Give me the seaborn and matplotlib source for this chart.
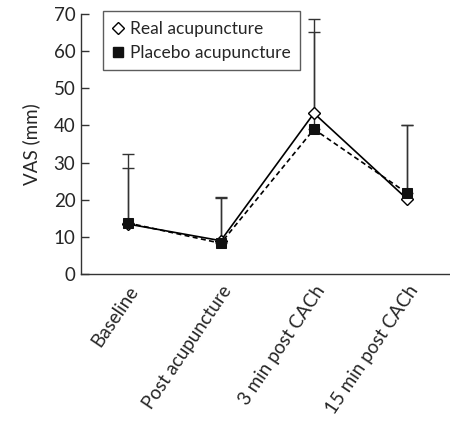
import matplotlib
matplotlib.use("Agg")
import matplotlib.pyplot as plt
import seaborn as sns
import pandas as pd
import numpy as np

categories = ["Baseline", "Post acupuncture", "3 min post CACh", "15 min post CACh"]
real_mean = [13.5, 9.0, 43.3, 20.2]
placebo_mean = [13.8, 8.3, 39.0, 21.8]
real_upper = [32.3, 20.8, 68.6, 40.1]
placebo_upper = [28.5, 20.5, 65.2, 40.0]
series_names = ["Real acupuncture", "Placebo acupuncture"]

sns.set_theme(style="white")
plt.rcParams["font.family"] = ["Lato", "DejaVu Sans"]

df = pd.DataFrame({
    "pos": list(range(len(categories))) * 2,
    "VAS": real_mean + placebo_mean,
    "group": [series_names[0]] * 4 + [series_names[1]] * 4,
})

fig = plt.figure(figsize=(4.5, 4.25), dpi=100)
ax = fig.add_axes([0.18, 0.355, 0.82, 0.612])

x = np.arange(len(categories))
# error bars (upper only)
for means, ups in [(real_mean, real_upper), (placebo_mean, placebo_upper)]:
    m = np.array(means); u = np.array(ups)
    ax.errorbar(x, m, yerr=[np.zeros_like(m), u - m], fmt="none",
                ecolor="#333333", elinewidth=1.0, capsize=4, capthick=1.0, zorder=1)

sns.lineplot(data=df, x="pos", y="VAS", hue="group", style="group",
             hue_order=series_names, style_order=series_names,
             palette=["black", "black"], dashes=[(1, 0), (3, 2)],
             markers=["D", "s"], markersize=7, linewidth=1.2, ax=ax, zorder=3)

for ln in ax.get_lines():
    if ln.get_marker() == "D":
        ln.set_markerfacecolor("white")
        ln.set_markeredgecolor("black")
        ln.set_markersize(6)
        ln.set_markeredgewidth(1.0)
    elif ln.get_marker() == "s":
        ln.set_markerfacecolor("#111111")
        ln.set_markeredgecolor("#111111")
        ln.set_markersize(7)

ax.set_xlim(-0.5, 3.46)
ax.set_ylim(0, 70)
ax.set_yticks(range(0, 71, 10))
ax.set_xticks(x)
ax.set_xticklabels(categories, rotation=56, ha="right", rotation_mode="anchor", fontsize=13.5)
ax.tick_params(axis="x", length=0, pad=6)
ax.set_xticks([0.5, 1.5, 2.5], minor=True)
ax.tick_params(axis="x", which="minor", direction="in", length=5, width=1, color="#555555")
ax.tick_params(axis="y", direction="in", length=6, width=1, labelsize=13.5, color="#333333", pad=4, left=True)
ax.set_xlabel("")
ax.set_ylabel("VAS (mm)", fontsize=13.5, labelpad=10)
for s in ["top", "right"]:
    ax.spines[s].set_visible(False)
for s in ["left", "bottom"]:
    ax.spines[s].set_color("#333333")
    ax.spines[s].set_linewidth(1.0)

handles = [
    plt.Line2D([], [], marker="D", linestyle="none", markerfacecolor="white", markeredgecolor="black", markersize=6),
    plt.Line2D([], [], marker="s", linestyle="none", markerfacecolor="#111111", markeredgecolor="#111111", markersize=7),
]
leg = ax.legend(handles, series_names, loc="upper left", bbox_to_anchor=(0.06, 1.01),
                borderaxespad=0.0,
                fontsize=12.5, frameon=True, fancybox=False, edgecolor="#333333",
                handlelength=0.6, handletextpad=0.4, borderpad=0.55, labelspacing=0.45)
leg.get_frame().set_linewidth(1.0)

fig.savefig("out.png", dpi=100)
